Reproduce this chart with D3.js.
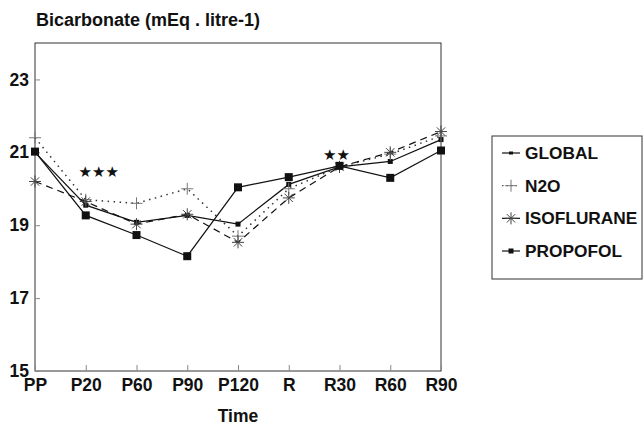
<!DOCTYPE html>
<html>
<head>
<meta charset="utf-8">
<script src="https://cdn.jsdelivr.net/npm/d3@7"></script>
<style>
  body { margin: 0; background: #fff; }
  svg { display: block; }
  text { font-family: "Liberation Sans", Arial, sans-serif; font-weight: bold; fill: #111; }
</style>
</head>
<body>
<svg id="chart" width="644" height="426"></svg>
<script>
// values
const times = ["PP", "P20", "P60", "P90", "P120", "R", "R30", "R60", "R90"];
const globalVals = [21.0, 19.55, 19.08, 19.27, 19.03, 20.12, 20.6, 20.75, 21.35];
const n2oVals = [21.4, 19.7, 19.6, 20.0, 18.7, 20.0, 20.6, 20.95, 21.45];
const isoVals = [20.2, 19.65, 19.03, 19.3, 18.53, 19.75, 20.6, 21.0, 21.57];
const propofolVals = [21.02, 19.27, 18.73, 18.15, 20.04, 20.32, 20.63, 20.3, 21.05];
const yTicks = [15, 17, 19, 21, 23];
const signif = [{ t: "P20", v: 20.45, label: "★★★" }, { t: "R30", v: 20.9, label: "★★" }];

const series = [
  { name: "GLOBAL", values: globalVals, dash: null, marker: "dot" },
  { name: "N2O", values: n2oVals, dash: "1.5,4.5", marker: "plus" },
  { name: "ISOFLURANE", values: isoVals, dash: "7,5", marker: "star" },
  { name: "PROPOFOL", values: propofolVals, dash: null, marker: "square" }
];

const svg = d3.select("#chart");
const plotL = 35, plotR = 441, plotT = 43, plotB = 371;

const x = d3.scalePoint().domain(times).range([plotL, plotR]);
const y = d3.scaleLinear().domain([15, 24]).range([plotB, plotT]);

// frame
svg.append("rect")
  .attr("x", plotL).attr("y", plotT)
  .attr("width", plotR - plotL).attr("height", plotB - plotT)
  .attr("fill", "none").attr("stroke", "#333").attr("stroke-width", 1);

// axes
const yAxis = d3.axisLeft(y).tickValues(yTicks).tickSize(-5).tickPadding(6);
svg.append("g").attr("transform", `translate(${plotL},0)`).call(yAxis)
  .call(g => g.select(".domain").remove())
  .call(g => g.selectAll(".tick line").attr("stroke", "#888"))
  .call(g => g.selectAll("text").attr("font-size", 17.5).attr("font-family", "Liberation Sans").attr("font-weight", "bold").attr("fill", "#111"));

const xAxis = d3.axisBottom(x).tickSize(-6).tickPadding(8);
svg.append("g").attr("transform", `translate(0,${plotB})`).call(xAxis)
  .call(g => g.select(".domain").remove())
  .call(g => g.selectAll(".tick line").attr("stroke", "#888"))
  .call(g => g.selectAll("text").attr("font-size", 17.5).attr("font-family", "Liberation Sans").attr("font-weight", "bold").attr("fill", "#111"));

// titles
svg.append("text").attr("x", 36).attr("y", 26).attr("font-size", 18).text("Bicarbonate (mEq . litre-1)");
svg.append("text").attr("x", x("P120")).attr("y", 422).attr("text-anchor", "middle").attr("font-size", 17.5).text("Time");

function drawMarker(g, type, cx, cy) {
  if (type === "dot") {
    g.append("rect").attr("x", cx - 2.5).attr("y", cy - 2.5).attr("width", 5).attr("height", 5).attr("fill", "#111");
  } else if (type === "square") {
    g.append("rect").attr("x", cx - 4).attr("y", cy - 4).attr("width", 8).attr("height", 8).attr("fill", "#111");
  } else if (type === "plus") {
    g.append("path").attr("d", `M${cx - 6},${cy}H${cx + 6}M${cx},${cy - 6}V${cy + 6}`)
      .attr("stroke", "#777").attr("stroke-width", 1);
  } else if (type === "star") {
    const r = 6, d = r * 0.7;
    g.append("path")
      .attr("d", `M${cx - r},${cy}H${cx + r}M${cx},${cy - r}V${cy + r}M${cx - d},${cy - d}L${cx + d},${cy + d}M${cx - d},${cy + d}L${cx + d},${cy - d}`)
      .attr("stroke", "#444").attr("stroke-width", 1);
  }
}

const line = d3.line().x((d, i) => x(times[i])).y(d => y(d));

series.forEach(s => {
  const g = svg.append("g");
  g.append("path").datum(s.values)
    .attr("d", line)
    .attr("fill", "none")
    .attr("stroke", s.marker === "plus" ? "#333" : "#111")
    .attr("stroke-width", s.marker === "plus" ? 1.5 : 1.2)
    .attr("stroke-dasharray", s.dash);
  s.values.forEach((v, i) => drawMarker(g, s.marker, x(times[i]), y(v)));
});

// significance stars
svg.selectAll(".signif").data(signif).enter().append("text")
  .attr("class", "signif")
  .attr("x", d => x(d.t) + (d.label.length > 2 ? 13 : -3))
  .attr("y", d => y(d.v))
  .attr("text-anchor", "middle")
  .attr("dominant-baseline", "middle")
  .attr("font-size", 15)
  .style("font-family", "DejaVu Sans")
  .text(d => d.label);

// legend
const lg = svg.append("g");
lg.append("rect").attr("x", 492).attr("y", 136).attr("width", 150).attr("height", 143)
  .attr("fill", "none").attr("stroke", "#333").attr("stroke-width", 1);
const legendY = d3.scalePoint().domain(series.map(s => s.name)).range([153, 251]);
series.forEach(s => {
  const cy = legendY(s.name);
  lg.append("path").attr("d", `M502,${cy}H520`)
    .attr("stroke", s.marker === "plus" ? "#555" : "#111").attr("stroke-width", 1.2)
    .attr("stroke-dasharray", s.marker === "plus" ? "1.5,3" : null);
  if (s.marker === "dot") {
    lg.append("rect").attr("x", 509).attr("y", cy - 1.5).attr("width", 4).attr("height", 3).attr("fill", "#111");
  } else {
    drawMarker(lg, s.marker === "square" ? "dot" : s.marker, 511, cy);
  }
  lg.append("text").attr("x", 525).attr("y", cy + 6).attr("font-size", 17.3).text(s.name);
});
</script>
</body>
</html>
